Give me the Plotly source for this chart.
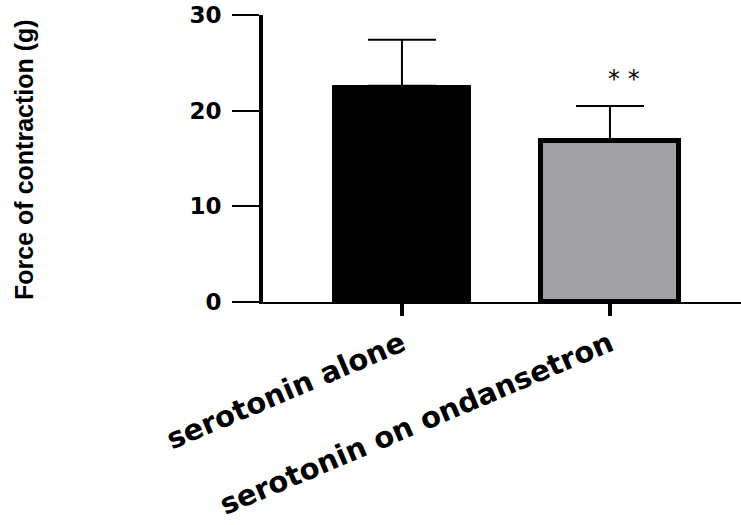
import plotly.graph_objects as go

# Mean force of contraction with SD, one bar per treatment
categories = ["serotonin alone", "serotonin on ondansetron"]
mean_force = [22.6, 16.8]
sd_force = [4.8, 3.7]
bar_colors = ["#000000", "#a1a1a5"]
significance = ["", "* *"]
y_ticks = [0, 10, 20, 30]

W, H = 741, 525
L, R, T, B = 263, 0, 15, 223

fig = go.Figure()
fig.add_trace(go.Bar(
    x=categories,
    y=mean_force,
    width=0.66,
    marker=dict(color=bar_colors, line=dict(color="black", width=[1, 5])),
    error_y=dict(type="data", symmetric=False, array=sd_force,
                 arrayminus=[0] * len(sd_force),
                 color="black", thickness=2, width=34),
    showlegend=False,
))

# significance stars above the error bars
for cat, m, s, txt in zip(categories, mean_force, sd_force, significance):
    if txt:
        fig.add_annotation(x=cat, y=m + s, text=txt, showarrow=False,
                           yanchor="bottom", yshift=11, xshift=14,
                           font=dict(family="DejaVu Sans", size=24, color="black"))

# y-axis title drawn as rotated text
fig.add_annotation(xref="paper", yref="paper",
                   x=(24 - L) / (W - L - R), y=0.495,
                   text="Force of contraction (g)", textangle=-90,
                   showarrow=False, xanchor="center", yanchor="middle",
                   font=dict(family="Liberation Sans Narrow, Liberation Sans", size=25,
                             color="black", weight="bold"))

fig.update_layout(
    width=W, height=H,
    margin=dict(l=L, r=R, t=T, b=B, autoexpand=False),
    paper_bgcolor="white", plot_bgcolor="white",
    bargap=0,
)
fig.update_xaxes(
    type="category", range=[-0.668, 1.63],
    showline=True, linecolor="black", linewidth=2,
    ticks="outside", ticklen=12, tickwidth=4, tickcolor="black",
    tickangle=-23, showgrid=False, zeroline=False,
    tickfont=dict(family="DejaVu Sans", size=29, color="black", weight="bold"),
)
fig.update_yaxes(
    range=[0, 30], tickvals=y_ticks,
    showline=True, linecolor="black", linewidth=4,
    ticks="outside", ticklen=27, tickwidth=2, tickcolor="black",
    ticklabelstandoff=6, showgrid=False, zeroline=False,
    tickfont=dict(family="DejaVu Sans", size=23, color="black", weight="bold"),
)

fig.write_html("out.html")
